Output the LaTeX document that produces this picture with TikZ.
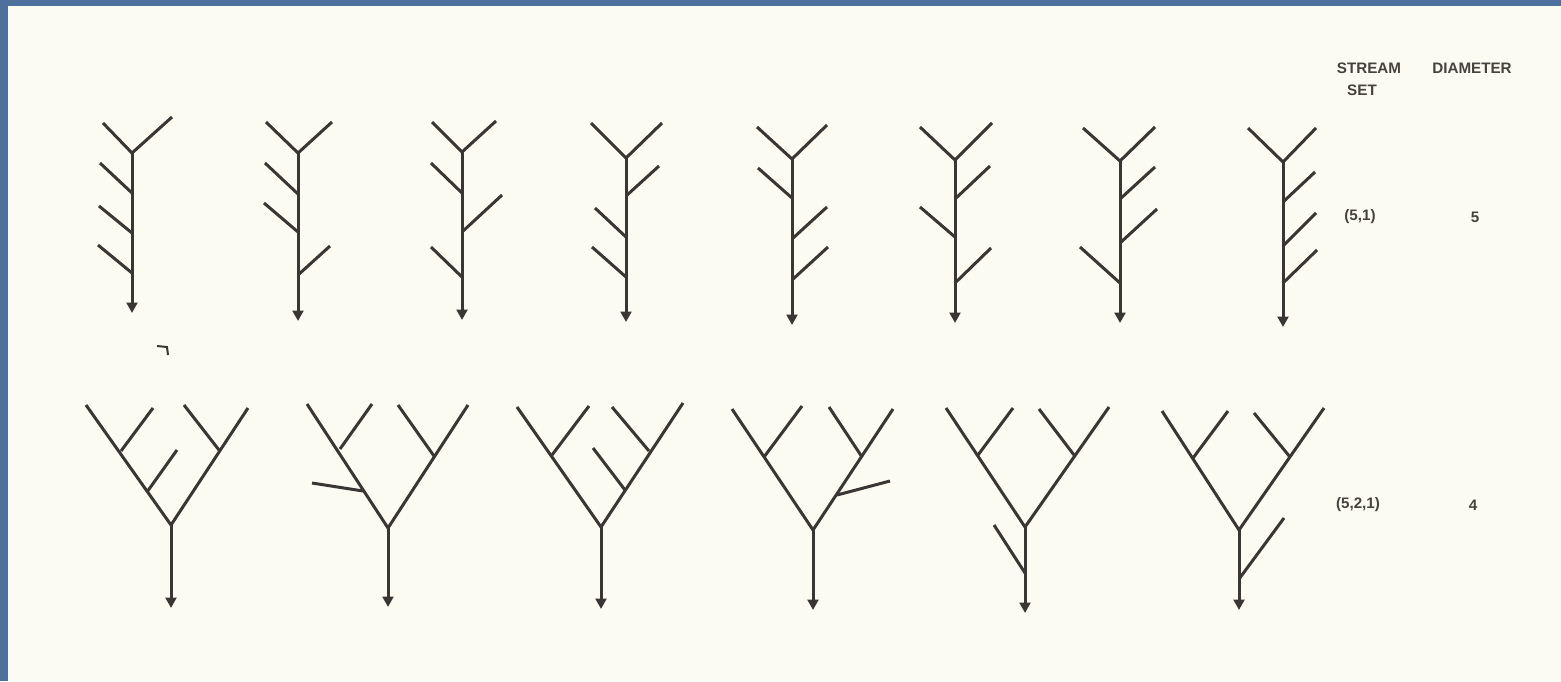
\documentclass[tikz,border=0pt]{standalone}
\usepackage{fontspec}
\setmainfont{Liberation Sans}
\usetikzlibrary{arrows.meta}
\definecolor{ink}{RGB}{58,54,52}
\definecolor{txt}{RGB}{70,66,62}
\definecolor{paper}{RGB}{252,251,242}
\definecolor{frame}{RGB}{78,112,156}
\begin{document}
\begin{tikzpicture}[x=0.5pt,y=-0.5pt,
  br/.style={draw=ink, line width=1.5pt, line join=miter},
  flow/.style={br, -{Triangle[width=5.4pt,length=5.2pt]}},
  lab/.style={font=\fontsize{7.6}{9}\selectfont\bfseries, text=txt, inner sep=0pt}]
\useasboundingbox (0,0) rectangle (1561,681);
\fill[frame] (0,0) rectangle (1561,681);
\fill[paper] (8,6) rectangle (1561,681);
% labels
\node[lab] (hstream) at (1369,68) {STREAM};
\node[lab] (hset) at (1362,90) {SET};
\node[lab] (hdiam) at (1472,68) {DIAMETER};
\node[lab] (s1) at (1360,217) {(5,1)};
\node[lab] (d1) at (1475,217) {5};
\node[lab] (s2) at (1358,505) {(5,2,1)};
\node[lab] (d2) at (1473,505) {4};
% stray mark
\draw[ink, line width=1pt] (157,346) -- (167,347) -- (168,355);
% ---------- top row ----------
% T1
\draw[br] (103,123) -- (132,153) -- (172,117);
\draw[flow] (132,153) -- (132,313);
\draw[br] (100,163) -- (132,193);
\draw[br] (99,206) -- (132,233);
\draw[br] (98,245) -- (132,273);
% T2
\draw[br] (266,122) -- (298,153) -- (332,122);
\draw[flow] (298,153) -- (298,321);
\draw[br] (265,163) -- (298,194);
\draw[br] (264,203) -- (298,232);
\draw[br] (330,246) -- (298,275);
% T3
\draw[br] (432,122) -- (462,152) -- (496,121);
\draw[flow] (462,152) -- (462,320);
\draw[br] (431,163) -- (462,193);
\draw[br] (502,195) -- (462,232);
\draw[br] (431,247) -- (462,277);
% T4
\draw[br] (591,123) -- (626,158) -- (662,123);
\draw[flow] (626,158) -- (626,322);
\draw[br] (659,166) -- (626,196);
\draw[br] (595,208) -- (626,237);
\draw[br] (592,247) -- (626,277);
% T5
\draw[br] (757,127) -- (792,159) -- (827,125);
\draw[flow] (792,159) -- (792,325);
\draw[br] (758,168) -- (792,198);
\draw[br] (827,207) -- (792,239);
\draw[br] (828,247) -- (792,280);
% T6
\draw[br] (920,127) -- (955,160) -- (992,123);
\draw[flow] (955,160) -- (955,323);
\draw[br] (990,166) -- (955,199);
\draw[br] (920,207) -- (955,237);
\draw[br] (991,248) -- (955,283);
% T7
\draw[br] (1083,128) -- (1120,161) -- (1155,127);
\draw[flow] (1120,161) -- (1120,323);
\draw[br] (1155,167) -- (1120,199);
\draw[br] (1157,209) -- (1120,243);
\draw[br] (1080,247) -- (1120,283);
% T8
\draw[br] (1248,128) -- (1283,162) -- (1316,128);
\draw[flow] (1283,162) -- (1283,327);
\draw[br] (1315,172) -- (1283,202);
\draw[br] (1316,213) -- (1283,246);
\draw[br] (1317,250) -- (1283,283);
% ---------- bottom row ----------
% B1
\draw[br] (86,405) -- (171,525) -- (248,408);
\draw[flow] (171,525) -- (171,608);
\draw[br] (121,451) -- (153,408);
\draw[br] (147,492) -- (177,450);
\draw[br] (219,450) -- (184,405);
% B2
\draw[br] (307,404) -- (388,528) -- (468,405);
\draw[flow] (388,528) -- (388,607);
\draw[br] (340,449) -- (372,404);
\draw[br] (434,456) -- (398,405);
\draw[br] (363,491) -- (312,483);
% B3
\draw[br] (517,407) -- (601,527) -- (683,403);
\draw[flow] (601,527) -- (601,609);
\draw[br] (552,455) -- (589,406);
\draw[br] (649,451) -- (612,407);
\draw[br] (625,490) -- (593,448);
% B4
\draw[br] (732,409) -- (813,530) -- (893,409);
\draw[flow] (813,530) -- (813,610);
\draw[br] (764,457) -- (802,406);
\draw[br] (862,457) -- (829,407);
\draw[br] (837,495) -- (890,481);
% B5
\draw[br] (946,408) -- (1025,527) -- (1109,407);
\draw[flow] (1025,527) -- (1025,613);
\draw[br] (978,455) -- (1013,408);
\draw[br] (1074,455) -- (1039,409);
\draw[br] (1025,573) -- (994,525);
% B6
\draw[br] (1162,411) -- (1239,530) -- (1324,408);
\draw[flow] (1239,530) -- (1239,610);
\draw[br] (1193,458) -- (1228,411);
\draw[br] (1290,457) -- (1254,413);
\draw[br] (1239,579) -- (1284,518);
\end{tikzpicture}
\end{document}
